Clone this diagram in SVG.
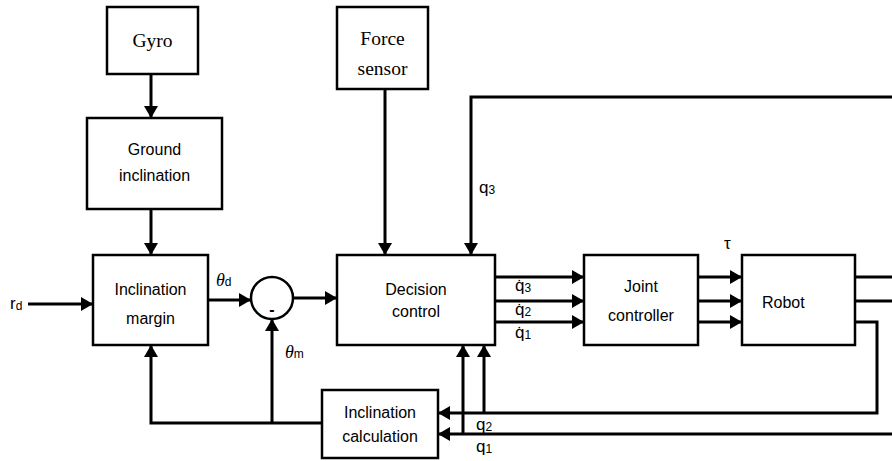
<svg xmlns="http://www.w3.org/2000/svg" width="892" height="461" viewBox="0 0 892 461">
  <defs>
    <marker id="arrow" viewBox="0 0 12 14" refX="12" refY="7" markerWidth="12" markerHeight="14" markerUnits="userSpaceOnUse" orient="auto">
      <path d="M0,0 L12,7 L0,14 Z" fill="#000"/>
    </marker>
    <style>
      .box { fill: #fff; stroke: #000; stroke-width: 2.5; }
      .wire { fill: none; stroke: #000; stroke-width: 3; }
      .arr { marker-end: url(#arrow); }
      .sans { font-family: "Liberation Sans", Arial, sans-serif; font-size: 16px; fill: #000; }
      .serif { font-family: "Liberation Serif", "Times New Roman", serif; font-size: 19.5px; fill: #000; }
      .lbl { font-family: "Liberation Sans", Arial, sans-serif; font-size: 17px; fill: #000; }
      .sub { font-size: 12px; }
      .theta { font-family: "Liberation Serif", "Times New Roman", serif; font-style: italic; font-size: 18px; }
    </style>
  </defs>

  <!-- signal lines -->
  <g id="connectors">
    <line class="wire arr" x1="151" y1="74" x2="151" y2="118"/>
    <line class="wire arr" x1="151" y1="209" x2="151" y2="255"/>
    <line class="wire arr" x1="385" y1="89" x2="385" y2="255"/>
    <line class="wire arr" x1="28" y1="304" x2="93" y2="304"/>
    <line class="wire arr" x1="208" y1="300" x2="251" y2="300"/>
    <line class="wire arr" x1="293" y1="298" x2="337" y2="298"/>
    <path class="wire arr" d="M892,97 H471 V255"/>
    <line class="wire arr" x1="495" y1="277" x2="584" y2="277"/>
    <line class="wire arr" x1="495" y1="301" x2="584" y2="301"/>
    <line class="wire arr" x1="495" y1="322" x2="584" y2="322"/>
    <line class="wire arr" x1="698" y1="277" x2="742" y2="277"/>
    <line class="wire arr" x1="698" y1="301" x2="742" y2="301"/>
    <line class="wire arr" x1="698" y1="322" x2="742" y2="322"/>
    <line class="wire" x1="855" y1="277" x2="892" y2="277"/>
    <line class="wire" x1="855" y1="301" x2="892" y2="301"/>
    <path class="wire arr" d="M855,322 H877 V413 H438"/>
    <line class="wire arr" x1="892" y1="434" x2="438" y2="434"/>
    <line class="wire arr" x1="484" y1="413" x2="484" y2="345"/>
    <line class="wire arr" x1="463" y1="434" x2="463" y2="345"/>
    <path class="wire arr" d="M322,423 H151 V345"/>
    <line class="wire arr" x1="272" y1="423" x2="272" y2="319"/>
  </g>

  <g id="gyro">
    <rect class="box" x="107" y="7" width="91" height="67"/>
    <text class="serif" x="152.5" y="47" text-anchor="middle">Gyro</text>
  </g>

  <g id="ground-inclination">
    <rect class="box" x="87" y="118" width="135" height="91"/>
    <text class="sans" x="154.5" y="155" text-anchor="middle">Ground</text>
    <text class="sans" x="154.5" y="181" text-anchor="middle">inclination</text>
  </g>

  <g id="force-sensor">
    <rect class="box" x="337" y="7" width="91" height="82"/>
    <text class="serif" x="382.5" y="45" text-anchor="middle">Force</text>
    <text class="serif" x="382.5" y="75" text-anchor="middle">sensor</text>
  </g>

  <g id="inclination-margin">
    <rect class="box" x="93" y="255" width="115" height="90"/>
    <text class="sans" x="150.5" y="295" text-anchor="middle">Inclination</text>
    <text class="sans" x="150.5" y="324" text-anchor="middle">margin</text>
  </g>

  <g id="summing-junction">
    <circle class="box" cx="272" cy="298" r="21"/>
    <text class="sans" x="272" y="315" text-anchor="middle" font-weight="bold">-</text>
  </g>

  <g id="decision-control">
    <rect class="box" x="337" y="255" width="158" height="90"/>
    <text class="sans" x="416" y="295" text-anchor="middle">Decision</text>
    <text class="sans" x="416" y="317" text-anchor="middle">control</text>
  </g>

  <g id="joint-controller">
    <rect class="box" x="584" y="255" width="114" height="90"/>
    <text class="sans" x="641" y="292" text-anchor="middle">Joint</text>
    <text class="sans" x="641" y="321" text-anchor="middle">controller</text>
  </g>

  <g id="robot">
    <rect class="box" x="742" y="255" width="113" height="90"/>
    <text class="sans" x="762" y="308">Robot</text>
  </g>

  <g id="inclination-calculation">
    <rect class="box" x="322" y="390" width="116" height="68"/>
    <text class="sans" x="380" y="418" text-anchor="middle">Inclination</text>
    <text class="sans" x="380" y="442" text-anchor="middle">calculation</text>
  </g>

  <!-- signal labels -->
  <g id="labels">
    <text class="lbl" x="10" y="309">r<tspan class="sub" dy="1">d</tspan></text>
    <text class="lbl" x="216" y="286"><tspan class="theta">θ</tspan><tspan class="sub">d</tspan></text>
    <text class="lbl" x="285" y="358"><tspan class="theta">θ</tspan><tspan class="sub">m</tspan></text>
    <text class="lbl" x="479" y="193">q<tspan class="sub" dy="1">3</tspan></text>
    <text class="lbl" x="724" y="249" font-family="Liberation Serif, serif">τ</text>
    <text class="lbl" x="515" y="291">q̇<tspan class="sub" dy="1">3</tspan></text>
    <text class="lbl" x="515" y="315">q̇<tspan class="sub" dy="1">2</tspan></text>
    <text class="lbl" x="515" y="338">q̇<tspan class="sub" dy="1">1</tspan></text>
    <text class="lbl" x="476" y="430">q<tspan class="sub" dy="1">2</tspan></text>
    <text class="lbl" x="476" y="452">q<tspan class="sub" dy="1">1</tspan></text>
  </g>
</svg>
